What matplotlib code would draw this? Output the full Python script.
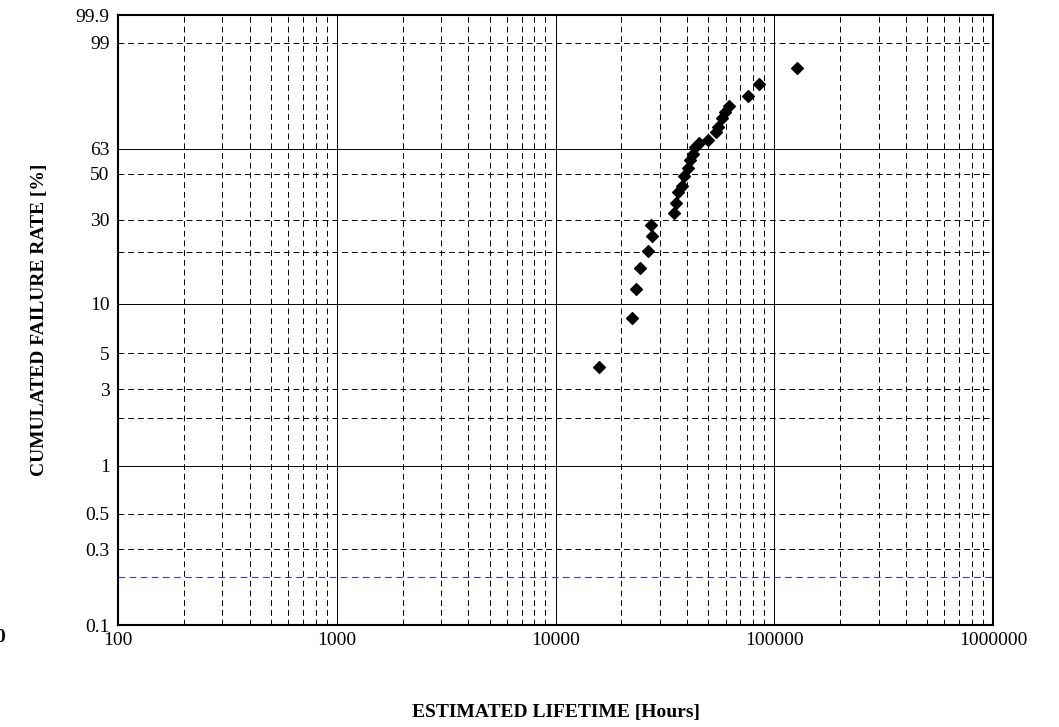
import numpy as np
import matplotlib
matplotlib.use('Agg')
import matplotlib.pyplot as plt

plt.rcParams['font.family'] = ['Liberation Serif', 'DejaVu Serif']

# estimated lifetime [hours] and cumulated failure rate [%]
hours = [15800, 22400, 23300, 24300, 26500, 27600, 27400, 34800, 35500,
         36300, 37850, 38650, 40350, 41200, 42540, 43450, 45300, 49800,
         54200, 55300, 57700, 59600, 62100, 75900, 85200, 127000]
failure = [4.12, 8.2, 12.2, 16.2, 20.3, 24.5, 28.1, 32.4, 36.4,
           41.2, 44.0, 48.8, 52.9, 57.1, 60.2, 64.0, 66.1, 67.7,
           71.9, 74.4, 78.8, 81.6, 84.2, 88.2, 92.1, 96.0]

y_ticks = [99.9, 99, 63, 50, 30, 10, 5, 3, 1, 0.5, 0.3, 0.1]
y_solid = [63, 10, 1]
y_dashed = [99, 50, 30, 20, 5, 3, 2, 0.5, 0.3]
y_blue = [0.2]
x_ticks = [100, 1000, 10000, 100000, 1000000]


def weib(p):
    f = np.asarray(p, dtype=float) / 100.0
    return np.log(-np.log(1 - f))


fig = plt.figure(figsize=(10.59, 7.27), dpi=100)
ax = fig.add_axes([118 / 1059, 1 - 625 / 727, (993 - 118) / 1059, 610 / 727])
ax.set_xscale('log')
ax.set_xlim(100, 1e6)
ax.set_ylim(weib(0.1), weib(99.9))

for dec in [100, 1000, 10000, 100000]:
    for m in range(2, 10):
        ax.axvline(dec * m, color='black', ls=(0, (6, 4)), lw=0.7)
for dec in [1000, 10000, 100000]:
    ax.axvline(dec, color='black', lw=0.7)
for v in y_solid:
    ax.axhline(weib(v), color='black', lw=0.7)
for v in y_dashed:
    ax.axhline(weib(v), color='black', ls=(0, (6, 4)), lw=0.7)
for v in y_blue:
    ax.axhline(weib(v), color='#3c3cb4', ls=(0, (6, 4)), lw=0.8)

ax.scatter(hours, weib(failure), marker='D', s=36, color='black', zorder=5)

ax.set_yticks(weib(y_ticks))
ax.set_yticklabels([f'{v:g}' for v in y_ticks], fontsize=14)
ax.set_xticks(x_ticks)
ax.set_xticklabels([str(v) for v in x_ticks], fontsize=14)
ax.xaxis.set_minor_locator(matplotlib.ticker.NullLocator())
ax.tick_params(length=0, pad=5, axis='x')
ax.tick_params(length=0, pad=6, axis='y')
for s in ax.spines.values():
    s.set_linewidth(1.5)

ax.set_xlabel('ESTIMATED LIFETIME [Hours]', fontsize=14, fontweight='bold', labelpad=40)
ax.set_ylabel('CUMULATED FAILURE RATE [%]', fontsize=14, fontweight='bold', labelpad=20)
fig.text(0.0, 1 - 637 / 727, '0', fontsize=14, fontweight='bold', va='center', ha='center')

fig.savefig('out.png', dpi=100)
